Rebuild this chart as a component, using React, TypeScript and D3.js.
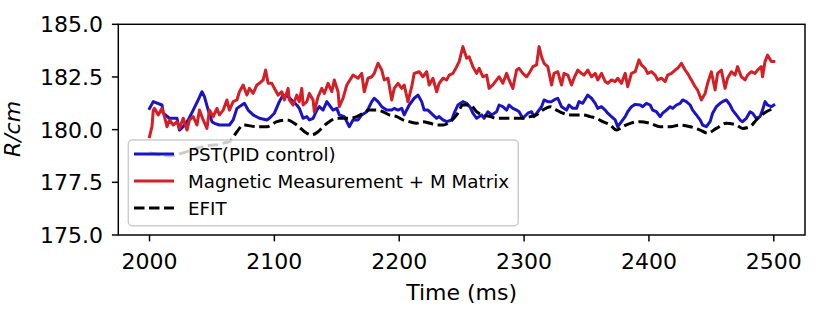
import React from "react";
import * as d3 from "d3";

const pstTime = [2000, 2003, 2010, 2011, 2016, 2022, 2024, 2027, 2031, 2035, 2039, 2042, 2044, 2047, 2050, 2052, 2056, 2064, 2067, 2070, 2074, 2076, 2079, 2083, 2088, 2094, 2096, 2100, 2104, 2107, 2111, 2115, 2118, 2120, 2123, 2126, 2128, 2131, 2134, 2136, 2139, 2142, 2144, 2147, 2150, 2152, 2156, 2160, 2163, 2167, 2170, 2174, 2178, 2180, 2183, 2186, 2190, 2194, 2196, 2199, 2202, 2204, 2208, 2212, 2215, 2218, 2220, 2223, 2227, 2230, 2232, 2235, 2238, 2242, 2244, 2247, 2251, 2254, 2257, 2259, 2262, 2266, 2268, 2271, 2274, 2278, 2280, 2283, 2286, 2288, 2291, 2294, 2296, 2299, 2303, 2306, 2308, 2311, 2314, 2316, 2319, 2322, 2324, 2327, 2330, 2334, 2336, 2339, 2342, 2344, 2347, 2351, 2354, 2357, 2359, 2362, 2365, 2367, 2370, 2373, 2375, 2378, 2381, 2383, 2386, 2389, 2393, 2395, 2398, 2401, 2403, 2406, 2409, 2411, 2414, 2417, 2419, 2422, 2425, 2427, 2430, 2433, 2435, 2438, 2441, 2443, 2446, 2449, 2451, 2454, 2457, 2459, 2462, 2465, 2467, 2470, 2473, 2475, 2478, 2481, 2483, 2486, 2489, 2491, 2493, 2495, 2498, 2500];
const pstR = [181.01, 181.33, 181.17, 180.78, 180.54, 180.54, 179.98, 180.14, 180.46, 180.93, 181.41, 181.8, 181.57, 180.93, 180.38, 180.3, 180.22, 180.22, 180.46, 181.01, 181.17, 181.25, 180.93, 180.7, 180.54, 180.46, 180.54, 180.78, 181.33, 181.64, 181.57, 181.33, 181.17, 181.01, 180.54, 180.62, 180.46, 180.54, 180.93, 181.09, 180.93, 181.33, 181.17, 180.93, 181.01, 180.7, 180.62, 180.14, 180.46, 180.46, 180.7, 180.85, 181.33, 181.49, 181.33, 181.09, 180.93, 180.93, 181.01, 180.93, 181.01, 180.7, 181.17, 181.49, 181.64, 181.33, 180.93, 180.93, 180.7, 180.54, 180.62, 180.46, 180.38, 180.46, 180.78, 181.17, 181.33, 181.25, 181.05, 180.78, 180.54, 180.7, 180.54, 180.85, 180.7, 180.85, 181.17, 181.09, 180.93, 181.17, 181.01, 180.93, 180.85, 180.54, 180.78, 180.85, 180.62, 180.85, 181.09, 181.41, 181.33, 181.33, 181.41, 181.49, 181.09, 180.93, 181.17, 181.01, 181.01, 181.33, 181.25, 181.64, 181.49, 181.25, 181.01, 181.09, 180.93, 180.78, 180.62, 180.46, 180.14, 180.38, 180.62, 180.85, 181.09, 181.2, 181.17, 181.09, 181.25, 181.17, 180.93, 180.85, 180.62, 180.78, 180.93, 181.09, 181.01, 181.17, 181.25, 181.41, 181.33, 181.17, 180.93, 180.7, 180.46, 180.22, 180.14, 180.38, 180.78, 181.09, 181.25, 181.33, 181.41, 181.17, 180.93, 180.7, 180.46, 180.38, 180.54, 180.85, 180.78, 180.54, 180.62, 180.93, 181.33, 181.17, 181.09, 181.17];

const mmTime = [2000, 2002, 2003, 2004, 2007, 2010, 2012, 2014, 2016, 2019, 2022, 2024, 2027, 2030, 2032, 2035, 2038, 2040, 2043, 2046, 2048, 2051, 2054, 2056, 2059, 2062, 2064, 2067, 2070, 2072, 2075, 2078, 2080, 2083, 2086, 2088, 2091, 2093, 2095, 2098, 2100, 2103, 2106, 2108, 2111, 2112, 2115, 2118, 2120, 2122, 2123, 2126, 2128, 2131, 2132, 2135, 2138, 2140, 2143, 2146, 2148, 2151, 2152, 2155, 2158, 2163, 2167, 2170, 2172, 2175, 2178, 2180, 2183, 2186, 2188, 2191, 2194, 2196, 2199, 2202, 2204, 2207, 2210, 2212, 2216, 2219, 2222, 2224, 2227, 2230, 2232, 2235, 2238, 2240, 2243, 2246, 2248, 2251, 2254, 2256, 2259, 2262, 2264, 2267, 2270, 2272, 2275, 2278, 2280, 2283, 2286, 2288, 2291, 2294, 2296, 2299, 2302, 2304, 2307, 2310, 2312, 2314, 2316, 2319, 2322, 2324, 2327, 2330, 2332, 2335, 2338, 2340, 2343, 2346, 2348, 2351, 2354, 2357, 2359, 2362, 2365, 2367, 2370, 2373, 2375, 2378, 2381, 2383, 2386, 2389, 2392, 2394, 2397, 2399, 2402, 2405, 2407, 2410, 2413, 2415, 2418, 2421, 2423, 2426, 2429, 2431, 2434, 2437, 2439, 2442, 2445, 2447, 2450, 2453, 2455, 2458, 2461, 2463, 2466, 2469, 2471, 2474, 2477, 2479, 2482, 2485, 2487, 2490, 2491, 2493, 2495, 2498, 2500];
const mmR = [179.67, 180.14, 180.93, 181.01, 180.7, 181.01, 180.62, 180.14, 180.46, 180.22, 180.38, 180.06, 180.54, 179.98, 180.46, 180.62, 180.22, 180.93, 180.46, 180.06, 180.93, 180.62, 181.01, 180.7, 180.93, 181.41, 180.93, 181.33, 181.41, 181.8, 182.12, 181.64, 181.96, 181.72, 182.12, 182.2, 182.36, 182.83, 182.2, 182.2, 181.96, 181.64, 181.8, 181.41, 181.96, 181.41, 181.17, 181.64, 181.33, 181.96, 181.17, 181.33, 181.72, 181.41, 180.85, 181.57, 181.96, 181.72, 182.2, 181.8, 182.36, 181.8, 181.09, 181.49, 182.12, 182.59, 182.44, 182.67, 181.8, 182.44, 182.51, 182.67, 183.15, 182.83, 182.36, 182.44, 181.41, 181.96, 182.2, 181.96, 182.12, 181.33, 182.04, 182.67, 182.75, 182.51, 182.75, 182.12, 182.44, 181.8, 182.2, 182.44, 182.36, 182.59, 182.67, 182.99, 183.23, 183.94, 183.39, 183.46, 182.99, 182.67, 182.91, 182.51, 182.59, 181.96, 182.12, 182.36, 182.51, 182.2, 182.67, 182.36, 181.96, 182.83, 182.91, 182.67, 182.51, 182.67, 182.99, 183.07, 183.94, 183.46, 183.15, 182.99, 182.12, 182.67, 182.75, 182.12, 182.67, 182.59, 182.12, 182.44, 182.83, 182.67, 182.59, 182.83, 182.51, 182.67, 182.36, 182.67, 182.28, 182.2, 182.36, 182.28, 182.44, 182.2, 182.67, 182.04, 182.67, 182.75, 183.31, 183.07, 182.91, 182.67, 182.75, 182.59, 182.36, 182.44, 182.28, 182.59, 182.67, 182.83, 182.91, 183.15, 182.83, 182.67, 182.36, 182.04, 181.88, 181.41, 181.72, 182.2, 182.75, 181.88, 182.67, 182.83, 181.96, 182.44, 182.75, 182.59, 182.99, 182.51, 182.36, 182.59, 182.75, 182.67, 182.83, 182.99, 182.51, 183.23, 183.54, 183.23, 183.23];

const efitTime = [2000, 2008, 2016, 2024, 2032, 2040, 2048, 2056, 2062, 2064, 2070, 2075, 2086, 2094, 2102, 2110, 2118, 2126, 2130, 2135, 2139, 2144, 2150, 2155, 2160, 2166, 2171, 2176, 2182, 2187, 2192, 2198, 2203, 2208, 2214, 2219, 2225, 2230, 2235, 2241, 2246, 2251, 2257, 2262, 2267, 2273, 2278, 2283, 2289, 2294, 2299, 2305, 2310, 2315, 2321, 2326, 2331, 2337, 2342, 2347, 2353, 2358, 2363, 2369, 2374, 2379, 2385, 2393, 2401, 2409, 2417, 2425, 2433, 2441, 2447, 2454, 2462, 2470, 2475, 2481, 2486, 2494, 2500];
const efitR = [178.9, 178.8, 178.75, 178.85, 179.0, 179.15, 179.25, 179.3, 179.4, 179.43, 179.9, 180.22, 180.14, 180.14, 180.38, 180.46, 180.22, 179.83, 179.75, 179.9, 180.14, 180.38, 180.54, 180.54, 180.54, 180.62, 180.78, 180.93, 180.93, 180.85, 180.7, 180.62, 180.46, 180.38, 180.3, 180.38, 180.3, 180.22, 180.22, 180.38, 180.7, 181.17, 181.17, 180.85, 180.7, 180.62, 180.54, 180.54, 180.54, 180.54, 180.54, 180.62, 180.7, 180.93, 181.09, 180.93, 180.78, 180.7, 180.7, 180.7, 180.62, 180.54, 180.38, 180.22, 179.98, 180.14, 180.3, 180.38, 180.3, 180.14, 180.14, 180.22, 180.14, 179.98, 179.83, 180.06, 180.3, 180.22, 180.06, 180.14, 180.46, 180.85, 181.0];

const yTicks = [175, 177.5, 180, 182.5, 185];
const xTicks = [2000, 2100, 2200, 2300, 2400, 2500];
const legendLabels = ["PST(PID control)", "Magnetic Measurement + M Matrix", "EFIT"];

const W = 830, H = 332;
const left = 118.3, right = 805, top = 24.3, bottom = 235;
const BLUE = "#1a14c4";
const RED = "#d31f26";
const FONT = "DejaVu Sans, sans-serif";
const LW = 3;

export default function App() {
  const x = d3.scaleLinear().domain([1975, 2525]).range([left, right]);
  const y = d3.scaleLinear().domain([175, 185]).range([bottom, top]);
  const mk = (ts: number[], vs: number[], curve = d3.curveLinear) =>
    d3.line<number>().x((_, i) => x(ts[i])).y((v) => y(v)).curve(curve)(vs) || "";

  const series = [
    { d: mk(pstTime, pstR), color: BLUE, dash: undefined as string | undefined },
    { d: mk(mmTime, mmR), color: RED, dash: undefined as string | undefined },
    { d: mk(efitTime, efitR, d3.curveMonotoneX), color: "#000", dash: "10.5,4.5" },
  ];
  const lg = { x: 128.3, y: 140, w: 390, h: 85.7 };
  const rowY = [154, 181, 208];

  return (
    <svg width={W} height={H} style={{ position: "absolute", left: 0, top: 0, background: "#fff" }} fontFamily={FONT}>
      <rect x={0} y={0} width={W} height={H} fill="#fff" />
      <defs>
        <clipPath id="plotclip">
          <rect x={left} y={top} width={right - left} height={bottom - top} />
        </clipPath>
      </defs>
      <g clipPath="url(#plotclip)">
        {series.map((s, i) => (
          <path key={i} d={s.d} fill="none" stroke={s.color} strokeWidth={LW}
            strokeDasharray={s.dash} strokeLinejoin="round" strokeLinecap={s.dash ? "butt" : "square"} />
        ))}
      </g>
      <rect x={left} y={top} width={right - left} height={bottom - top} fill="none" stroke="#000" strokeWidth={1.47} />
      {yTicks.map((t) => (
        <g key={t}>
          <line x1={left - 6.4} x2={left} y1={y(t)} y2={y(t)} stroke="#000" strokeWidth={1.47} />
          <text x={103} y={y(t) + 8} textAnchor="end" fontSize={22} fill="#000">{d3.format(".1f")(t)}</text>
        </g>
      ))}
      {xTicks.map((t) => (
        <g key={t}>
          <line x1={x(t)} x2={x(t)} y1={bottom} y2={bottom + 6.4} stroke="#000" strokeWidth={1.47} />
          <text x={x(t)} y={269} textAnchor="middle" fontSize={22} fill="#000">{t}</text>
        </g>
      ))}
      <text x={(left + right) / 2} y={300} textAnchor="middle" fontSize={22} fill="#000">Time (ms)</text>
      <text transform={`translate(20, 129) rotate(-90)`} textAnchor="middle" fontSize={22} fontStyle="italic" fill="#000">R/cm</text>
      <rect x={lg.x} y={lg.y} width={lg.w} height={lg.h} rx={4} ry={4} fill="#fff" fillOpacity={0.8} stroke="#cccccc" strokeWidth={1.47} />
      {legendLabels.map((lab, i) => (
        <g key={lab}>
          <line x1={134} x2={174} y1={rowY[i]} y2={rowY[i]} stroke={series[i].color} strokeWidth={LW}
            strokeDasharray={series[i].dash} />
          <text x={188} y={rowY[i] + 6.6} fontSize={18.3} fill="#000">{lab}</text>
        </g>
      ))}
    </svg>
  );
}
